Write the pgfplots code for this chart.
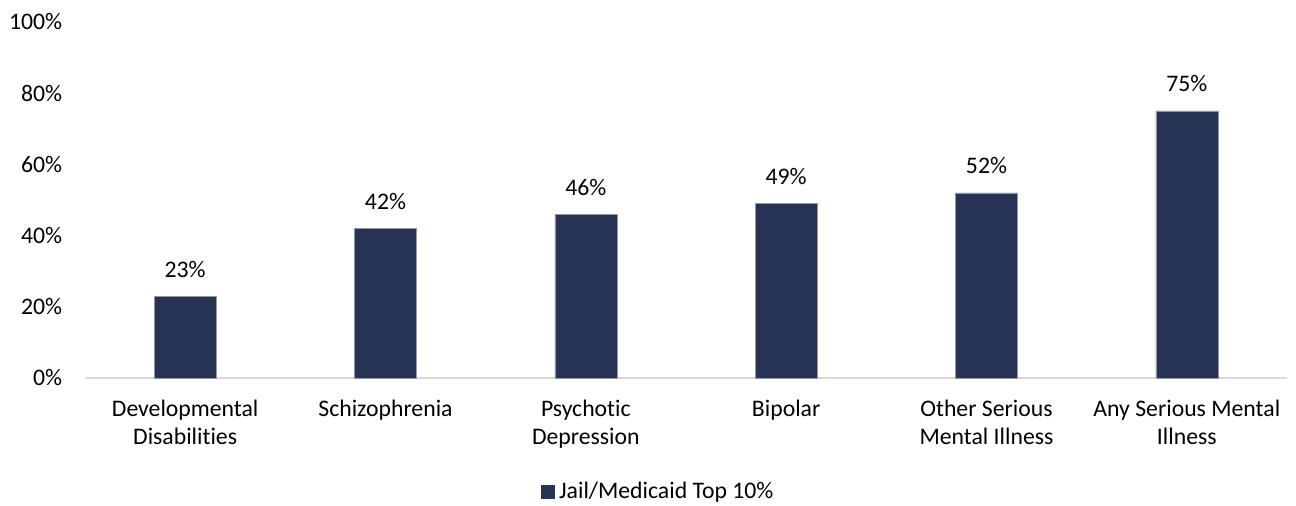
\documentclass[border=0pt]{standalone}
\usepackage{pgfplots}
\pgfplotsset{compat=1.18}
\usepackage{fontspec}
\setmainfont{Carlito}[Ligatures=NoCommon]
\definecolor{barc}{HTML}{263355}
\definecolor{axc}{HTML}{D9D9D9}
\newcommand{\fs}{\fontsize{17.8pt}{21pt}\selectfont}
\begin{document}
\fs
\begin{tikzpicture}
\begin{axis}[
  scale only axis,
  width=901.5pt, height=267pt,
  xmin=-0.5, xmax=5.5, ymin=0, ymax=100,
  axis y line=none,
  axis x line*=bottom,
  x axis line style={axc, line width=1pt, -},
  xtick=data,
  xticklabels={{Developmental\\Disabilities},{Schizophrenia},{Psychotic\\Depression},{Bipolar},{Other Serious\\Mental Illness},{Any Serious Mental\\Illness}},
  xticklabel style={align=center, anchor=north, yshift=-10.5pt, font=\fs},
  major tick length=0pt,
  ybar, bar width=46.5pt,
  /pgf/number format/assume math mode=true,
  nodes near coords={\pgfmathprintnumber{\pgfplotspointmeta}\%},
  nodes near coords style={font=\fs, anchor=south, yshift=8pt, text=black},
  legend style={at={(axis description cs:0.477,-0.32)}, anchor=center, draw=none, fill=none, font=\fs, inner sep=0pt},
  legend image code/.code={\fill[barc] (0pt,-5pt) rectangle (10pt,5pt);},
  clip=false,
]
\addplot[fill=barc, draw=axc!60!barc, line width=0.4pt] coordinates {(0,23) (1,42) (2,46) (3,49) (4,52) (5,75)};
\addlegendentry{\hspace{1.5pt}Jail/Medicaid Top 10\%}
\end{axis}
\begin{axis}[
  scale only axis,
  width=901.5pt, height=267pt,
  xmin=-0.5, xmax=5.5, ymin=0, ymax=100,
  axis x line=none, axis y line*=left,
  y axis line style={draw=none},
  major tick length=0pt,
  ytick={0,20,40,60,80,100},
  yticklabels={0\%,20\%,40\%,60\%,80\%,100\%},
  yticklabel style={font=\fs, anchor=east, inner sep=0pt, xshift=-17pt},
]
\end{axis}
\pgfresetboundingbox
\path (current axis.south west) ++(-63.75pt,-96pt) rectangle ++(972pt,379.5pt);
\end{tikzpicture}
\end{document}
